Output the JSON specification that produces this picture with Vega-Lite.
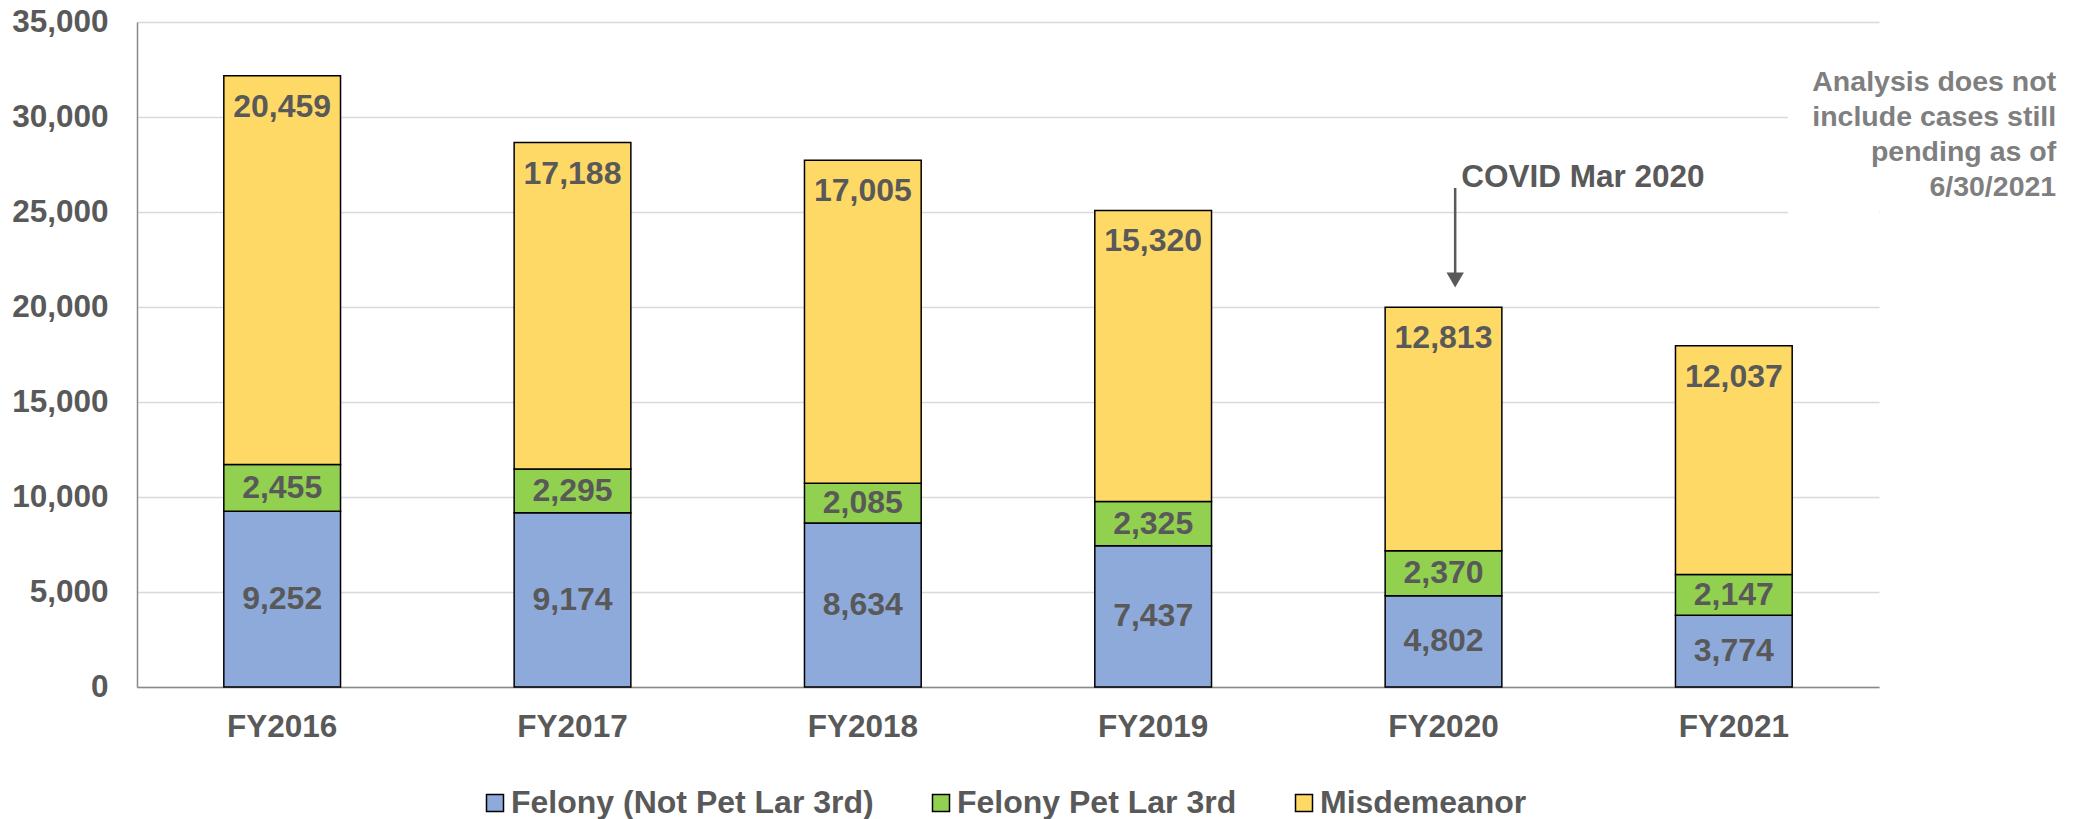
{
  "$schema": "https://vega.github.io/schema/vega-lite/v6.json",
  "width": 1742,
  "height": 665,
  "autosize": {"type": "none"},
  "padding": {"left": 137, "top": 22, "right": 200, "bottom": 132},
  "config": {"view": {"stroke": null}, "font": "Liberation Sans"},
  "data": {
    "values": [
      {"year": "FY2016", "category": "Felony (Not Pet Lar 3rd)", "ord": 1, "value": 9252},
      {"year": "FY2016", "category": "Felony Pet Lar 3rd", "ord": 2, "value": 2455},
      {"year": "FY2016", "category": "Misdemeanor", "ord": 3, "value": 20459},
      {"year": "FY2017", "category": "Felony (Not Pet Lar 3rd)", "ord": 1, "value": 9174},
      {"year": "FY2017", "category": "Felony Pet Lar 3rd", "ord": 2, "value": 2295},
      {"year": "FY2017", "category": "Misdemeanor", "ord": 3, "value": 17188},
      {"year": "FY2018", "category": "Felony (Not Pet Lar 3rd)", "ord": 1, "value": 8634},
      {"year": "FY2018", "category": "Felony Pet Lar 3rd", "ord": 2, "value": 2085},
      {"year": "FY2018", "category": "Misdemeanor", "ord": 3, "value": 17005},
      {"year": "FY2019", "category": "Felony (Not Pet Lar 3rd)", "ord": 1, "value": 7437},
      {"year": "FY2019", "category": "Felony Pet Lar 3rd", "ord": 2, "value": 2325},
      {"year": "FY2019", "category": "Misdemeanor", "ord": 3, "value": 15320},
      {"year": "FY2020", "category": "Felony (Not Pet Lar 3rd)", "ord": 1, "value": 4802},
      {"year": "FY2020", "category": "Felony Pet Lar 3rd", "ord": 2, "value": 2370},
      {"year": "FY2020", "category": "Misdemeanor", "ord": 3, "value": 12813},
      {"year": "FY2021", "category": "Felony (Not Pet Lar 3rd)", "ord": 1, "value": 3774},
      {"year": "FY2021", "category": "Felony Pet Lar 3rd", "ord": 2, "value": 2147},
      {"year": "FY2021", "category": "Misdemeanor", "ord": 3, "value": 12037}
    ]
  },
  "layer": [
    {
      "transform": [
        {"stack": "value", "groupby": ["year"], "sort": [{"field": "ord", "order": "ascending"}], "as": ["v0", "v1"]}
      ],
      "mark": {"type": "bar", "stroke": "black", "strokeWidth": 1.5},
      "encoding": {
        "x": {
          "field": "year", "type": "nominal",
          "scale": {"paddingInner": 0.598, "paddingOuter": 0.299},
          "axis": {
            "title": null, "labelAngle": 0, "ticks": false, "labelPadding": 24,
            "labelFontSize": 31.5, "labelFont": "Liberation Sans", "labelFontWeight": "bold",
            "labelColor": "#595959", "domainColor": "#898989", "domainWidth": 1.5, "grid": false
          }
        },
        "y": {
          "field": "v0", "type": "quantitative",
          "scale": {"domain": [0, 35000]},
          "axis": {
            "title": null, "values": [0, 5000, 10000, 15000, 20000, 25000, 30000, 35000],
            "format": ",.0f", "ticks": false, "labelPadding": 29,
            "labelFontSize": 31.5, "labelFont": "Liberation Sans", "labelFontWeight": "bold",
            "labelColor": "#595959", "domainColor": "#898989", "domainWidth": 1.5,
            "gridColor": "#d9d9d9", "gridWidth": 1.5
          }
        },
        "y2": {"field": "v1"},
        "color": {
          "field": "category", "type": "nominal",
          "scale": {
            "domain": ["Felony (Not Pet Lar 3rd)", "Felony Pet Lar 3rd", "Misdemeanor"],
            "range": ["#8eaadb", "#92d050", "#ffd966"]
          },
          "legend": {
            "title": null, "orient": "none", "legendX": 342, "legendY": 765,
            "direction": "horizontal", "symbolType": "square", "symbolSize": 289,
            "symbolStrokeColor": "black", "symbolStrokeWidth": 1.5, "symbolOpacity": 1,
            "labelFontSize": 32, "labelFont": "Liberation Sans", "labelFontWeight": "bold",
            "labelColor": "#595959", "labelOffset": 0, "columnPadding": 51, "labelLimit": 0
          }
        }
      }
    },
    {
      "transform": [
        {"stack": "value", "groupby": ["year"], "sort": [{"field": "ord", "order": "ascending"}], "as": ["v0", "v1"]},
        {"calculate": "(datum.v0 + datum.v1) / 2", "as": "mid"},
        {"filter": "datum.category != 'Misdemeanor'"}
      ],
      "mark": {"type": "text", "fontSize": 32, "fontWeight": "bold", "font": "Liberation Sans", "color": "#595959", "baseline": "middle"},
      "encoding": {
        "x": {"field": "year", "type": "nominal"},
        "y": {"field": "mid", "type": "quantitative"},
        "text": {"field": "value", "type": "quantitative", "format": ","}
      }
    },
    {
      "transform": [
        {"stack": "value", "groupby": ["year"], "sort": [{"field": "ord", "order": "ascending"}], "as": ["v0", "v1"]},
        {"filter": "datum.category == 'Misdemeanor'"}
      ],
      "mark": {"type": "text", "fontSize": 32, "fontWeight": "bold", "font": "Liberation Sans", "color": "#595959", "baseline": "middle", "dy": 31},
      "encoding": {
        "x": {"field": "year", "type": "nominal"},
        "y": {"field": "v1", "type": "quantitative"},
        "text": {"field": "value", "type": "quantitative", "format": ","}
      }
    },
    {
      "data": {"values": [{"note": "note box"}]},
      "mark": {"type": "rect", "color": "white", "opacity": 1},
      "encoding": {
        "x": {"datum": "FY2021", "type": "nominal", "bandPosition": 0.964},
        "x2": {"value": "width"},
        "y": {"datum": 32500, "type": "quantitative"},
        "y2": {"datum": 22600}
      }
    },
    {
      "data": {"values": [{"note": "arrow"}]},
      "mark": {"type": "rule", "color": "#595959", "strokeWidth": 2.5},
      "encoding": {
        "x": {"datum": "FY2020", "type": "nominal", "bandPosition": 0.6},
        "y": {"datum": 26263, "type": "quantitative"},
        "y2": {"datum": 21600}
      }
    },
    {
      "data": {"values": [{"note": "arrowhead"}]},
      "mark": {"type": "point", "shape": "triangle-down", "filled": true, "color": "#595959", "size": 300, "opacity": 1},
      "encoding": {
        "x": {"datum": "FY2020", "type": "nominal", "bandPosition": 0.6},
        "y": {"datum": 21421, "type": "quantitative"}
      }
    },
    {
      "data": {"values": [{"label": "COVID Mar 2020"}]},
      "mark": {"type": "text", "fontSize": 31.5, "fontWeight": "bold", "font": "Liberation Sans", "color": "#595959", "align": "left", "baseline": "middle", "dx": 6},
      "encoding": {
        "x": {"datum": "FY2020", "type": "nominal", "bandPosition": 0.6},
        "y": {"datum": 26789, "type": "quantitative"},
        "text": {"field": "label"}
      }
    },
    {
      "data": {"values": [{"label": ["Analysis does not", "include cases still", "pending as of", "6/30/2021"]}]},
      "mark": {"type": "text", "fontSize": 28.5, "fontWeight": "bold", "font": "Liberation Sans", "color": "#7f7f7f", "align": "right", "baseline": "top", "dx": 264, "lineHeight": 35},
      "encoding": {
        "x": {"datum": "FY2021", "type": "nominal", "bandPosition": 1},
        "y": {"datum": 32560, "type": "quantitative"},
        "text": {"field": "label"}
      }
    }
  ]
}
